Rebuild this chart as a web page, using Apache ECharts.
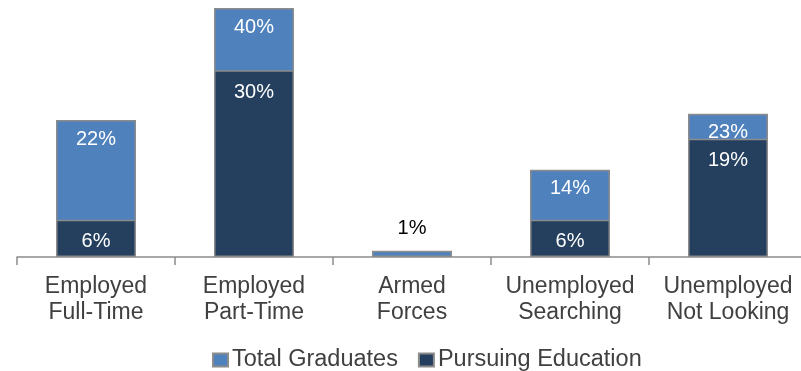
<!DOCTYPE html>
<html>
<head>
<meta charset="utf-8">
<script src="https://cdn.jsdelivr.net/npm/echarts@6/dist/echarts.min.js"></script>
<style>
  html, body { margin: 0; padding: 0; background: #ffffff; overflow: hidden; }
  /* the plot runs a few pixels past the right edge of the window */
  #chart { width: 807px; height: 371px; }
</style>
</head>
<body>
<div id="chart"></div>
<script>
// Post-graduation status, percent of graduates
const categories = [
  'Employed\nFull-Time',
  'Employed\nPart-Time',
  'Armed\nForces',
  'Unemployed\nSearching',
  'Unemployed\nNot Looking'
];
const totalGraduates = [22, 40, 1, 14, 23];
const pursuingEducation = [6, 30, null, 6, 19];

const LIGHT = '#4f81bd';
const DARK = '#253f5f';
const EDGE = '#8c8c8c';
const FONT = '"Liberation Sans", Arial, sans-serif';

// Bars too short to hold a label get it above them, in black
function withLabels(values) {
  return values.map(v => {
    if (v === null) return null;
    if (v < 3) {
      return { value: v, label: { position: 'top', distance: 12, color: '#000000' } };
    }
    return v;
  });
}

const chart = echarts.init(document.getElementById('chart'), null, { renderer: 'canvas' });
chart.setOption({
  animation: false,
  textStyle: { fontFamily: FONT },
  grid: { left: 17, top: 8, right: 0, bottom: 114, containLabel: false },
  legend: {
    left: 212,
    top: 348,
    padding: 0,
    icon: 'rect',
    itemWidth: 15,
    itemHeight: 13,
    itemGap: 20,
    textStyle: { fontFamily: FONT, fontSize: 23.5, color: '#404040', padding: [0, 0, 0, -1] },
    data: ['Total Graduates', 'Pursuing Education']
  },
  xAxis: {
    type: 'category',
    data: categories,
    axisLine: { show: true, lineStyle: { color: EDGE, width: 1.5 } },
    axisTick: { show: true, alignWithLabel: false, length: 8, lineStyle: { color: EDGE, width: 1.5 } },
    axisLabel: {
      interval: 0,
      margin: 17,
      fontFamily: FONT,
      fontSize: 23,
      lineHeight: 26,
      color: '#404040'
    }
  },
  yAxis: {
    type: 'value',
    min: 0,
    max: 40,
    show: false,
    splitLine: { show: false }
  },
  series: [
    {
      name: 'Total Graduates',
      type: 'bar',
      barWidth: 80,
      data: withLabels(totalGraduates),
      itemStyle: { color: LIGHT, borderColor: EDGE, borderWidth: 1.5 },
      label: {
        show: true,
        position: 'insideTop',
        distance: 9,
        formatter: '{c}%',
        fontFamily: FONT,
        fontSize: 20,
        color: '#ffffff'
      }
    },
    {
      name: 'Pursuing Education',
      type: 'bar',
      barWidth: 80,
      barGap: '-100%',
      data: withLabels(pursuingEducation),
      itemStyle: { color: DARK, borderColor: EDGE, borderWidth: 1.5 },
      label: {
        show: true,
        position: 'insideTop',
        distance: 12,
        formatter: '{c}%',
        fontFamily: FONT,
        fontSize: 20,
        color: '#ffffff'
      }
    }
  ]
});
</script>
</body>
</html>
